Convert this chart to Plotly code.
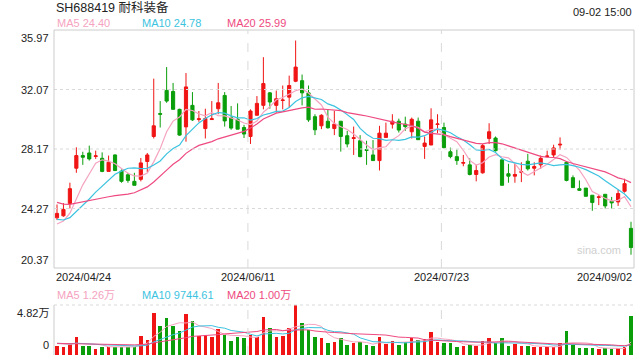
import plotly.graph_objects as go
import pandas as pd

title = "SH688419 耐科装备"
stamp = "09-02 15:00"
tick_idx = [0, 30, 60, 89]
tick_labels = ["2024/04/24", "2024/06/11", "2024/07/23", "2024/09/02"]
price_ticks = [35.97, 32.07, 28.17, 24.27, 20.37]

opens = [23.66, 23.79, 24.60, 26.91, 27.74, 27.91, 27.68, 27.56, 26.70, 27.78,
         26.72, 26.48, 26.05, 26.18, 27.35, 28.99, 30.49, 32.01, 31.94, 30.77,
         29.62, 31.03, 30.10, 29.51, 30.10, 30.81, 31.68, 30.23, 30.12, 29.58,
         28.99, 30.38, 31.03, 31.85, 31.03, 31.35, 31.57, 32.61, 32.65, 31.85,
         30.29, 29.69, 29.99, 29.51, 29.99, 29.04, 28.86, 28.71, 28.13, 27.78,
         27.41, 28.93, 29.80, 29.99, 29.80, 29.30, 29.99, 28.34, 28.43, 29.78,
         29.58, 27.99, 27.67, 27.24, 27.13, 26.50, 26.61, 28.86, 28.89, 27.46,
         26.55, 26.39, 26.64, 27.37, 26.91, 27.13, 27.67, 27.78, 28.43, 27.30,
         26.29, 25.57, 25.61, 25.14, 25.00, 25.20, 24.75, 24.70, 25.40, 22.97]
highs = [24.53, 24.62, 25.96, 28.28, 27.99, 28.39, 28.06, 27.95, 27.74, 27.82,
         26.83, 26.61, 26.61, 27.58, 27.91, 32.78, 31.31, 33.54, 32.50, 30.81,
         33.15, 31.90, 30.66, 30.81, 31.31, 32.50, 31.90, 30.99, 31.16, 29.75,
         30.77, 31.64, 34.19, 31.90, 32.00, 32.33, 32.98, 35.28, 33.05, 32.33,
         30.45, 30.45, 30.77, 30.66, 29.99, 29.36, 29.64, 29.08, 28.71, 28.76,
         29.69, 29.90, 30.45, 30.16, 30.29, 30.23, 30.23, 28.99, 30.84, 30.45,
         29.90, 28.26, 28.13, 27.78, 27.56, 27.13, 28.50, 29.86, 28.99, 27.46,
         27.20, 27.20, 27.30, 27.85, 27.30, 27.74, 28.06, 28.45, 28.93, 27.37,
         26.44, 26.11, 25.61, 25.14, 25.14, 25.20, 25.03, 25.51, 26.22, 23.40]
lows = [23.51, 23.73, 24.27, 26.61, 27.13, 27.41, 27.52, 26.65, 26.70, 26.72,
        25.96, 25.96, 25.79, 26.05, 26.65, 28.86, 29.58, 31.20, 30.77, 29.04,
        28.65, 30.01, 29.95, 28.86, 30.08, 30.45, 29.64, 29.43, 29.47, 28.89,
        28.50, 30.38, 30.77, 30.81, 30.55, 30.77, 30.88, 32.55, 31.03, 29.95,
        29.08, 29.47, 29.51, 29.08, 28.00, 28.28, 27.78, 27.63, 27.13, 27.41,
        26.76, 28.93, 29.51, 29.25, 29.36, 28.86, 28.76, 27.52, 28.43, 29.21,
        28.21, 27.56, 27.13, 27.04, 26.44, 26.05, 26.55, 28.50, 28.00, 25.79,
        25.96, 25.96, 26.00, 26.76, 26.44, 26.87, 27.63, 27.63, 28.13, 26.05,
        25.64, 25.42, 25.07, 24.12, 24.49, 24.27, 24.27, 24.44, 25.31, 21.24]
closes = [23.95, 24.21, 25.57, 27.74, 27.63, 27.52, 27.72, 26.70, 27.30, 26.76,
          26.05, 26.11, 25.79, 27.26, 27.78, 29.69, 30.45, 31.31, 30.77, 29.08,
          32.24, 30.08, 30.15, 30.17, 30.15, 31.20, 30.01, 29.54, 29.47, 29.15,
          30.66, 31.16, 32.46, 31.25, 31.46, 31.38, 32.33, 33.54, 31.85, 30.08,
          29.43, 30.38, 29.56, 29.80, 28.99, 28.50, 28.91, 27.67, 28.08, 27.41,
          29.21, 29.21, 29.99, 29.41, 29.64, 30.12, 28.78, 28.56, 30.08, 29.81,
          28.26, 27.67, 27.41, 27.28, 26.50, 26.76, 28.39, 29.30, 28.06, 25.79,
          26.39, 26.50, 26.68, 26.87, 27.02, 27.56, 27.71, 28.24, 28.48, 26.11,
          25.64, 25.46, 25.07, 24.66, 25.03, 24.44, 24.64, 25.25, 25.90, 21.71]
# volume in 万 (10k shares)
volumes = [0.87, 0.74, 1.06, 1.77, 0.87, 0.87, 0.58, 0.80, 0.80, 0.74,
           0.74, 0.80, 0.80, 1.83, 1.45, 4.08, 2.80, 3.57, 2.80, 2.31,
           3.95, 3.28, 1.83, 1.93, 1.77, 2.47, 1.93, 1.38, 1.77, 1.67,
           1.93, 1.70, 3.70, 2.60, 1.77, 1.83, 2.60, 4.82, 3.12, 2.41,
           1.77, 1.67, 1.19, 1.29, 1.67, 0.96, 1.19, 1.25, 0.96, 0.87,
           1.70, 1.06, 1.38, 0.96, 1.29, 1.67, 1.45, 1.51, 2.25, 1.29,
           1.19, 1.19, 0.80, 0.87, 0.96, 0.87, 1.38, 1.67, 1.19, 1.67,
           0.87, 1.06, 0.87, 0.87, 0.74, 0.74, 0.74, 0.80, 1.13, 2.31,
           0.96, 0.71, 0.71, 0.71, 0.55, 0.64, 0.55, 0.64, 0.74, 3.76]
# estimated sessions before the visible window (only feed the moving averages)
prior_closes = [26.3, 26.1, 25.9, 26.0, 25.7, 25.8, 25.6, 25.5, 25.4, 25.5,
                24.6, 24.0, 23.8, 23.6, 23.3, 23.2, 23.0, 23.1, 23.0]
prior_volumes = [1.05, 1.20, 1.10, 0.95, 1.25, 1.15, 1.10, 1.30, 1.05, 1.00,
                 1.20, 1.10, 1.15, 1.05, 1.25, 1.10, 1.20, 1.15, 1.20]

RED = "#f01414"
GREEN = "#0a9e0a"
C5, C10, C20 = "#f5a3c0", "#3cc3e0", "#ee4a80"
FONT = "Arial, 'Liberation Sans', 'Noto Sans CJK SC', sans-serif"

n = len(closes)
idx = list(range(n))
npre = len(prior_closes)
cs = pd.Series(prior_closes + closes)
vs = pd.Series(prior_volumes + volumes)
ma = {k: cs.rolling(k).mean().iloc[npre:].tolist() for k in (5, 10, 20)}
vma = {k: vs.rolling(k).mean().iloc[npre:].tolist() for k in (5, 10, 20)}
vol_colors = [RED if c >= o else GREEN for o, c in zip(opens, closes)]

fig = go.Figure()
fig.add_trace(go.Candlestick(
    x=idx, open=opens, high=highs, low=lows, close=closes,
    increasing=dict(line=dict(color=RED, width=1), fillcolor=RED),
    decreasing=dict(line=dict(color=GREEN, width=1), fillcolor=GREEN),
    whiskerwidth=0, xaxis="x", yaxis="y", showlegend=False, hoverinfo="skip"))
for k, col in ((5, C5), (10, C10), (20, C20)):
    fig.add_trace(go.Scatter(x=idx, y=ma[k], mode="lines", line=dict(color=col, width=1.2),
                             xaxis="x", yaxis="y", showlegend=False, hoverinfo="skip"))
fig.add_trace(go.Bar(x=idx, y=volumes, marker=dict(color=vol_colors, line=dict(width=0)),
                     width=0.55, xaxis="x2", yaxis="y2", showlegend=False, hoverinfo="skip"))
for k, col in ((5, C5), (10, C10), (20, C20)):
    fig.add_trace(go.Scatter(x=idx, y=vma[k], mode="lines", line=dict(color=col, width=1),
                             xaxis="x2", yaxis="y2", showlegend=False, hoverinfo="skip"))

W, H = 640, 360
L, R, T, B = 54, 6, 30, 5
PW, PH = W - L - R, H - T - B


def py(ypx):
    return (H - B - ypx) / PH


def px(xpx):
    return (xpx - L) / PW


xr = [-0.465, n - 1 + 0.465]
fig.update_layout(
    width=W, height=H, margin=dict(l=L, r=R, t=T, b=B),
    paper_bgcolor="white", plot_bgcolor="white",
    font=dict(family=FONT, size=11, color="#222"),
    bargap=0,
    xaxis=dict(domain=[0, 1], range=xr, anchor="y", showticklabels=False, showgrid=False,
               zeroline=False, rangeslider=dict(visible=False), fixedrange=True),
    yaxis=dict(domain=[py(268), 1], range=[price_ticks[-1], price_ticks[0]], showticklabels=False,
               showgrid=False, zeroline=False),
    xaxis2=dict(domain=[0, 1], range=xr, anchor="y2", showticklabels=False, showgrid=False,
                zeroline=False, matches="x"),
    yaxis2=dict(domain=[0, py(305)], range=[0, max(volumes)], showticklabels=False,
                showgrid=False, zeroline=False),
)

shapes = []
GRID = "#d9d9d9"
for v in price_ticks[1:-1]:
    shapes.append(dict(type="line", xref="x domain", yref="y", x0=0, x1=1, y0=v, y1=v,
                       line=dict(color=GRID, width=1, dash="dot")))
shapes.append(dict(type="rect", xref="x domain", yref="y domain", x0=0, x1=1, y0=0, y1=1,
                   line=dict(color="#cccccc", width=1)))
for t in tick_idx[1:-1]:
    shapes.append(dict(type="line", xref="x", yref="y domain", x0=t - 0.4, x1=t - 0.4, y0=0, y1=1,
                       line=dict(color=GRID, width=1, dash="dash")))
    shapes.append(dict(type="line", xref="x2", yref="y2 domain", x0=t - 0.4, x1=t - 0.4, y0=0, y1=1,
                       line=dict(color=GRID, width=1, dash="dash")))
shapes.append(dict(type="line", xref="x2 domain", yref="y2 domain", x0=0, x1=1, y0=1, y1=1,
                   line=dict(color=GRID, width=1, dash="dot")))
shapes.append(dict(type="line", xref="x2 domain", yref="y2 domain", x0=0, x1=0, y0=0, y1=1,
                   line=dict(color="#cccccc", width=1)))
fig.update_layout(shapes=shapes)

ann = []
for i, v in enumerate(price_ticks):
    ya = "top" if i == 0 else ("bottom" if i == len(price_ticks) - 1 else "middle")
    ann.append(dict(xref="paper", yref="y", x=0, y=v, xanchor="right", yanchor=ya, xshift=-3,
                    text=f"{v:.2f}", showarrow=False, font=dict(size=11, color="#222")))
ann.append(dict(xref="paper", yref="y2", x=0, y=max(volumes), xanchor="right", yanchor="top",
                xshift=-3, text=f"{max(volumes):.2f}万", showarrow=False))
ann.append(dict(xref="paper", yref="y2", x=0, y=0, xanchor="right", yanchor="bottom",
                xshift=-3, yshift=2, text="0", showarrow=False))
for i, (t, lab) in enumerate(zip(tick_idx, tick_labels)):
    if i == 0:
        ann.append(dict(xref="paper", yref="paper", x=0, y=py(277), xanchor="left",
                        yanchor="middle", text=lab, showarrow=False))
    elif i == len(tick_idx) - 1:
        ann.append(dict(xref="paper", yref="paper", x=1, y=py(277), xanchor="right",
                        yanchor="middle", text=lab, showarrow=False))
    else:
        ann.append(dict(xref="x", yref="paper", x=t - 0.4, y=py(277), xanchor="center",
                        yanchor="middle", text=lab, showarrow=False))
ann.append(dict(xref="paper", yref="paper", x=0, y=py(8.5), xanchor="left", yanchor="middle",
                text=title, showarrow=False, font=dict(size=12.5, color="#222")))
ann.append(dict(xref="paper", yref="paper", x=1, y=py(11.5), xanchor="right", yanchor="middle",
                text=stamp, showarrow=False, font=dict(size=11, color="#222")))
leg_x = [55, 140, 225]
main_leg = ["MA5 24.40", "MA10 24.78", "MA20 25.99"]
vol_leg = ["MA5 1.26万", "MA10 9744.61", "MA20 1.00万"]
for xx, txt, col in zip(leg_x, main_leg, (C5, C10, C20)):
    ann.append(dict(xref="paper", yref="paper", x=px(xx), y=py(23.5), xanchor="left",
                    yanchor="middle", text=txt, showarrow=False, font=dict(size=11, color=col)))
for xx, txt, col in zip(leg_x, vol_leg, (C5, C10, C20)):
    ann.append(dict(xref="paper", yref="paper", x=px(xx), y=py(294.5), xanchor="left",
                    yanchor="middle", text=txt, showarrow=False, font=dict(size=11, color=col)))
ann.append(dict(xref="paper", yref="paper", x=px(623), y=py(250), xanchor="right",
                yanchor="middle", text="sina.com", showarrow=False,
                font=dict(size=11, color="#cfcfcf")))
fig.update_layout(annotations=ann)

fig.write_html("out.html", config={"displayModeBar": False},
               post_script="document.body.style.margin='0';document.body.style.overflow='hidden';")
